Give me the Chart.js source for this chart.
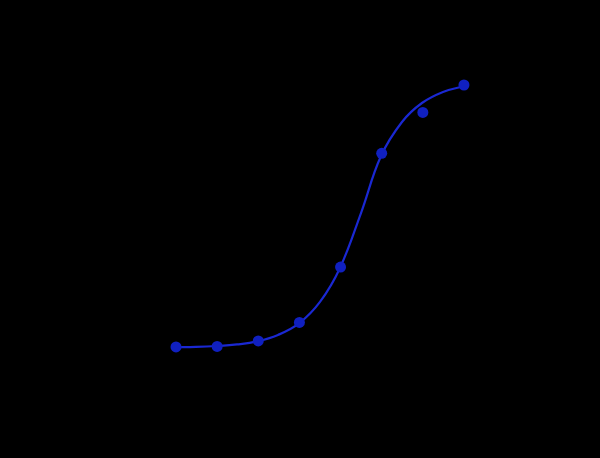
<!DOCTYPE html>
<html>
<head>
<meta charset="utf-8">
<script src="https://cdn.jsdelivr.net/npm/chart.js@4"></script>
<style>
  html, body { margin: 0; padding: 0; background: #000; }
  #wrap { width: 600px; height: 458px; background: #000; }
</style>
</head>
<body>
<div id="wrap"><canvas id="c" width="600" height="458"></canvas></div>
<script>
const pointX = [1, 2, 3, 4, 5, 6, 7, 8];
const pointY = [0.442, 0.446, 0.492, 0.646, 1.108, 2.056, 2.396, 2.625];

// Fitted curve
const curveX = [0.976, 1.486, 1.997, 2.483, 2.969, 3.479, 3.99, 4.5, 4.986, 5.497, 5.983, 6.493, 6.979, 7.49, 7.976];
const curveY = [0.439, 0.442, 0.45, 0.463, 0.488, 0.542, 0.638, 0.817, 1.1, 1.558, 2.033, 2.317, 2.475, 2.567, 2.613];

const toXY = (xs, ys) => xs.map((x, i) => ({ x: x, y: ys[i] }));

new Chart(document.getElementById('c'), {
  type: 'scatter',
  data: {
    datasets: [
      {
        label: 'Fit',
        data: toXY(curveX, curveY),
        showLine: true,
        borderColor: '#1a28d2',
        borderWidth: 2.2,
        pointRadius: 0,
        tension: 0.4,
        fill: false,
        order: 2
      },
      {
        label: 'Data',
        data: toXY(pointX, pointY),
        showLine: false,
        backgroundColor: '#1020c0',
        borderColor: '#1020c0',
        pointRadius: 5.5,
        pointBorderWidth: 0,
        order: 1
      }
    ]
  },
  options: {
    responsive: false,
    animation: false,
    layout: { padding: { left: 134.86, right: 94.9, top: 40, bottom: 58 } },
    plugins: { legend: { display: false }, tooltip: { enabled: false } },
    scales: {
      x: { type: 'linear', min: 0, max: 9, display: false },
      y: { type: 'linear', min: 0, max: 3, display: false }
    }
  }
});
</script>
</body>
</html>
